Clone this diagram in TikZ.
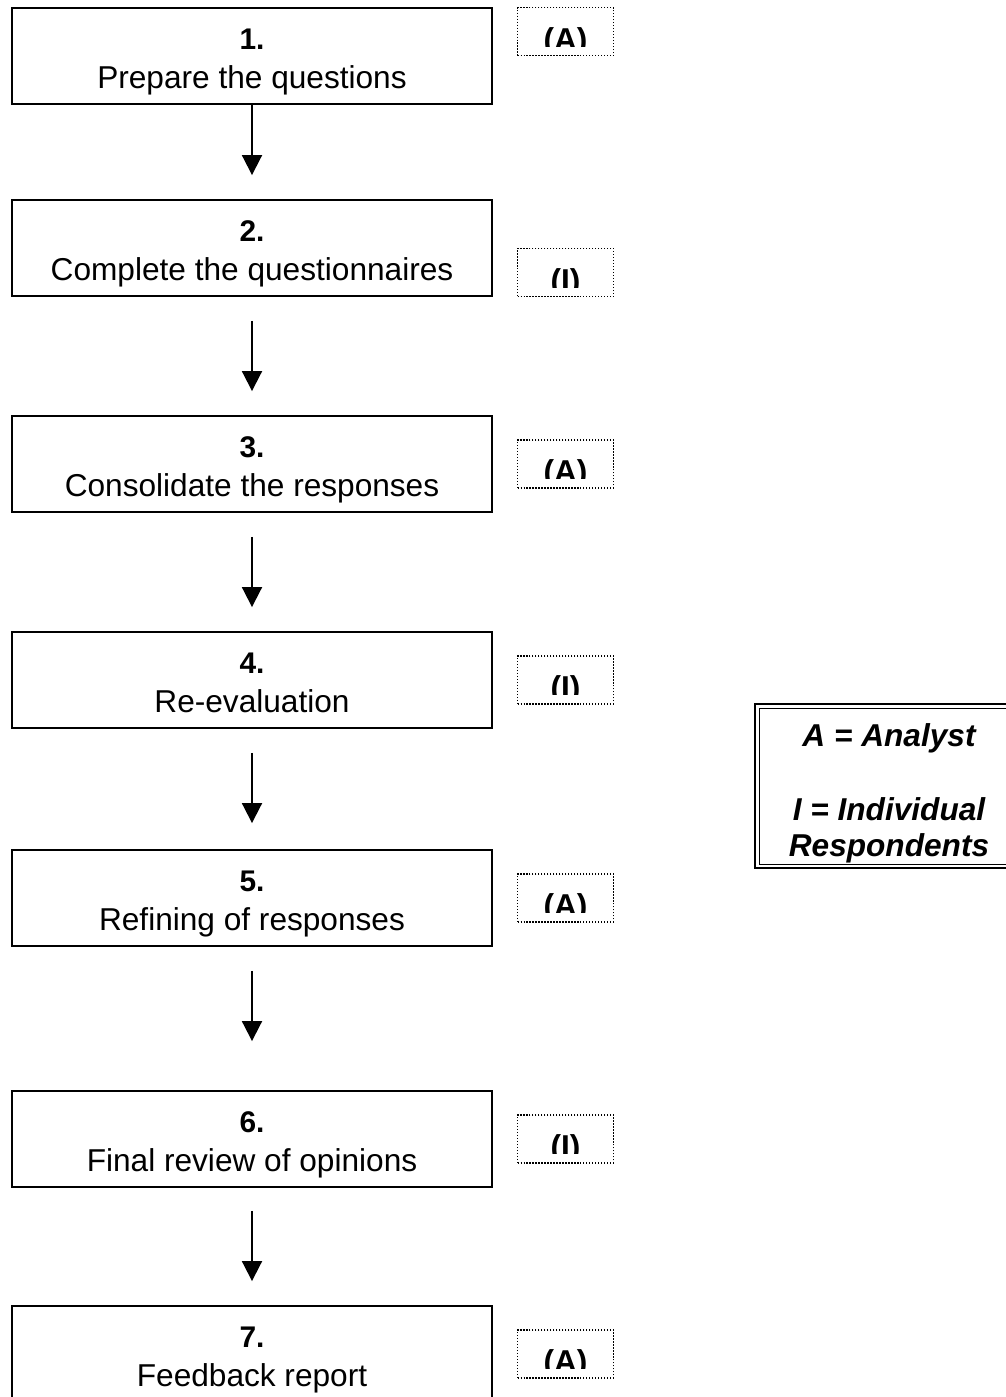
\documentclass[tikz,border=0pt]{standalone}
\usepackage{fontspec}
\setmainfont{Liberation Sans}
\usepackage{trimclip}
\usetikzlibrary{arrows.meta, positioning}

\tikzset{
  stepbox/.style={draw, line width=1.1pt, minimum width=9.6cm, minimum height=1.92cm,
    inner sep=0pt, align=center, text height=37pt, text depth=0pt,
    font=\fontsize{18}{22.2}\selectfont},
  tagbox/.style={draw, densely dotted, line width=0.7pt, minimum width=1.92cm,
    minimum height=0.96cm, inner sep=0pt, text height=16.8pt, text depth=0pt,
    font=\bfseries\fontsize{18}{22}\selectfont},
  legendbox/.style={draw, line width=1.2pt, minimum width=5.36cm, minimum height=3.28cm,
    inner sep=0pt, align=center, text height=80.8pt, text depth=0pt,
    font=\bfseries\itshape\fontsize{18}{21}\selectfont},
  flowarrow/.style={line width=1.1pt, -{Triangle[width=0.4cm, length=0.4cm]}},
}
\newcommand{\stepno}[1]{{\bfseries\fontsize{17}{22.2}\selectfont #1}}
\newcommand{\tagtext}[1]{\clipbox{0pt 6pt 0pt 0pt}{#1}}

\begin{document}
\begin{tikzpicture}[x=0.02cm, y=-0.02cm]
  \useasboundingbox (0,0) rectangle (1006,1397);
  \clip (0,0) rectangle (1006,1397);
  \def\cx{252}

  % Steps
  \node[stepbox] (s1) at (\cx, 56)   {\stepno{1.}\\Prepare the questions};
  \node[stepbox] (s2) at (\cx, 248)  {\stepno{2.}\\Complete the questionnaires};
  \node[stepbox] (s3) at (\cx, 464)  {\stepno{3.}\\Consolidate the responses};
  \node[stepbox] (s4) at (\cx, 680)  {\stepno{4.}\\Re-evaluation};
  \node[stepbox] (s5) at (\cx, 898)  {\stepno{5.}\\Refining of responses};
  \node[stepbox] (s6) at (\cx, 1139) {\stepno{6.}\\Final review of opinions};
  \node[stepbox] (s7) at (\cx, 1354) {\stepno{7.}\\Feedback report};

  % Who carries out each step
  \node[tagbox, right=0.48cm of s1.north east, anchor=north west] (t1) {\tagtext{(A)}};
  \node[tagbox, right=0.48cm of s2.south east, anchor=south west] (t2) {\tagtext{(I)}};
  \node[tagbox, right=0.48cm of s3] (t3) {\tagtext{(A)}};
  \node[tagbox, right=0.48cm of s4] (t4) {\tagtext{(I)}};
  \node[tagbox, right=0.48cm of s5] (t5) {\tagtext{(A)}};
  \node[tagbox, right=0.48cm of s6] (t6) {\tagtext{(I)}};
  \node[tagbox, right=0.48cm of s7] (t7) {\tagtext{(A)}};

  % Arrows
  \draw[flowarrow, shorten >=0.48cm] (s1) -- (s2);
  \draw[flowarrow, shorten <=0.48cm, shorten >=0.48cm] (s2) -- (s3);
  \draw[flowarrow, shorten <=0.48cm, shorten >=0.48cm] (s3) -- (s4);
  \draw[flowarrow, shorten <=0.48cm, shorten >=0.52cm] (s4) -- (s5);
  \draw[flowarrow, shorten <=0.48cm, shorten >=0.98cm] (s5) -- (s6);
  \draw[flowarrow, shorten <=0.46cm, shorten >=0.48cm] (s6) -- (s7);

  % Legend
  \node[legendbox] (leg) at (889, 786) {A = Analyst\\[0.74cm]I = Individual\\Respondents};
  \draw[line width=0.5pt] ([shift={(5,-5)}]leg.south west) rectangle ([shift={(-5,5)}]leg.north east);
\end{tikzpicture}
\end{document}
